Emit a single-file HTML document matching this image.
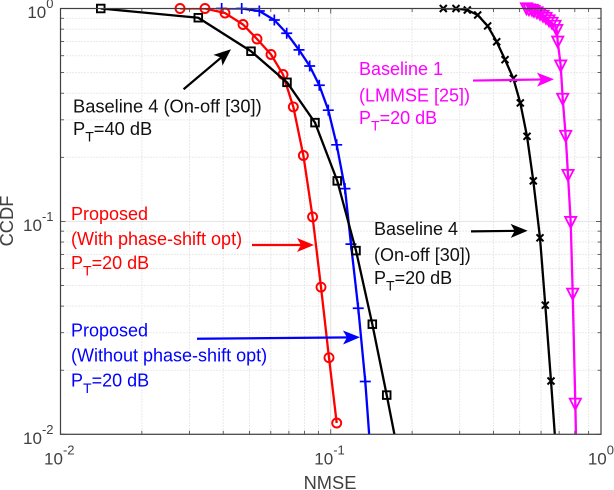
<!DOCTYPE html>
<html lang="en">
<head>
<meta charset="utf-8">
<title>CCDF vs NMSE</title>
<style>
html,body{margin:0;padding:0;background:#fff;width:614px;height:490px;overflow:hidden}
svg{display:block;font-family:"Liberation Sans",Arial,sans-serif}
.note{font-size:18px}
.note-wide{font-size:18.3px}
.sub{font-size:14px}
</style>
</head>
<body>
<svg id="chart" xmlns="http://www.w3.org/2000/svg" width="614" height="490" viewBox="0 0 614 490">
  <defs><clipPath id="plot-clip"><rect x="60.5" y="8.5" width="540.5" height="426"/></clipPath></defs>
  <g id="grid"></g>
  <g id="series"></g>
  <g id="axes"></g>

  <text x="330" y="489" text-anchor="middle" font-size="18.3" fill="#404040">NMSE</text>
  <text transform="translate(13 221) rotate(-90)" text-anchor="middle" font-size="18.3" fill="#404040">CCDF</text>

  <g fill="#111">
    <text class="note-wide" x="73" y="112.5">Baseline 4 (On-off [30])</text>
    <text class="note-wide" x="73" y="135">P<tspan class="sub" dy="6.5">T</tspan><tspan dy="-6.5">=40 dB</tspan></text>
    <g transform="translate(231 49.3) rotate(139.9)">
      <line x1="8" y1="0" x2="62" y2="0" stroke="#000" stroke-width="2.2"/>
      <polygon points="0,0 17,-7 13,0 17,7" fill="#000"/>
    </g>
  </g>

  <g fill="#ff0000">
    <text class="note" x="71" y="220">Proposed</text>
    <text class="note" x="71" y="245">(With phase-shift opt)</text>
    <text class="note" x="71" y="269">P<tspan class="sub" dy="6.5">T</tspan><tspan dy="-6.5">=20 dB</tspan></text>
    <g transform="translate(314 245) rotate(180)">
      <line x1="8" y1="0" x2="62" y2="0" stroke="#ff0000" stroke-width="2.2"/>
      <polygon points="0,0 17,-7 13,0 17,7"/>
    </g>
  </g>

  <g fill="#0000ff">
    <text class="note" x="71" y="336.5">Proposed</text>
    <text class="note" x="71" y="361.5">(Without phase-shift opt)</text>
    <text class="note" x="71" y="386.5">P<tspan class="sub" dy="6.5">T</tspan><tspan dy="-6.5">=20 dB</tspan></text>
    <g transform="translate(360 337.3) rotate(179.5)">
      <line x1="8" y1="0" x2="163" y2="0" stroke="#0000ff" stroke-width="2.2"/>
      <polygon points="0,0 17,-7 13,0 17,7"/>
    </g>
  </g>

  <g fill="#ff00ff">
    <text class="note" x="359" y="75">Baseline 1</text>
    <text class="note" x="359" y="101.5">(LMMSE [25])</text>
    <text class="note" x="359" y="124">P<tspan class="sub" dy="6.5">T</tspan><tspan dy="-6.5">=20 dB</tspan></text>
    <g transform="translate(554 79.3) rotate(179.1)">
      <line x1="8" y1="0" x2="81" y2="0" stroke="#ff00ff" stroke-width="2.2"/>
      <polygon points="0,0 17,-7 13,0 17,7"/>
    </g>
  </g>

  <g fill="#111">
    <text class="note" x="374" y="235">Baseline 4</text>
    <text class="note" x="374" y="261">(On-off [30])</text>
    <text class="note" x="374" y="284">P<tspan class="sub" dy="6.5">T</tspan><tspan dy="-6.5">=20 dB</tspan></text>
    <g transform="translate(527.7 230.7) rotate(179.3)">
      <line x1="8" y1="0" x2="56.7" y2="0" stroke="#000" stroke-width="2.2"/>
      <polygon points="0,0 17,-7 13,0 17,7" fill="#000"/>
    </g>
  </g>
</svg>
<script>
/* Chart data: NMSE (x) and CCDF (y) */
const xTickExponents = [-2, -1, 0];
const yTickExponents = [0, -1, -2];
const minorMultipliers = [2, 3, 4, 5, 6, 7, 8, 9];

const baseline1Nmse = [0.5299,0.5414,0.5554,0.5650,0.5797,0.5947,0.6101,0.6259,0.6421,0.6587,0.6758,0.6857,0.6916,0.7095,0.7217,0.7403,0.7549,0.7725,0.7858,0.8035,0.8173];
const baseline1Ccdf = [1,0.989,0.984,0.973,0.958,0.942,0.922,0.902,0.878,0.855,0.828,0.792,0.698,0.539,0.376,0.252,0.165,0.0992,0.0457,0.0139,0.00493];

const proposedNoOptNmse = [0.03948,0.04683,0.05441,0.06183,0.06871,0.07630,0.08358,0.09070,0.09793,0.1052,0.1129,0.1188,0.1264,0.1342,0.1427];
const proposedNoOptCcdf = [1,1,0.973,0.883,0.765,0.639,0.537,0.436,0.333,0.229,0.1426,0.0782,0.0391,0.0177,0.00612];

const proposedOptNmse = [0.02769,0.03425,0.04061,0.04736,0.05334,0.06011,0.06657,0.07270,0.07919,0.08565,0.09203,0.09851,0.1052];
const proposedOptCcdf = [1,1,0.952,0.841,0.719,0.608,0.490,0.345,0.204,0.105,0.0491,0.0229,0.0113];

const baseline4Db20Nmse = [0.2609,0.2907,0.3201,0.3497,0.3807,0.4112,0.4414,0.4737,0.5028,0.5324,0.5617,0.5947,0.6221,0.6531,0.6935];
const baseline4Db20Ccdf = [1,1,0.984,0.932,0.828,0.698,0.575,0.470,0.360,0.251,0.155,0.0837,0.0404,0.0178,0.00612];

const baseline4Db40Nmse = [0.01409,0.03235,0.05069,0.06888,0.08744,0.1057,0.1240,0.1425,0.1611,0.1825];
const baseline4Db40Ccdf = [1,0.905,0.630,0.450,0.291,0.155,0.0729,0.0329,0.01528,0.00681];

const NS = 'http://www.w3.org/2000/svg';
const plotLeft = 60.5, plotRight = 601, plotTop = 8.5, plotBottom = 434.3;

function xScale(v) { return plotLeft + (Math.log10(v) + 2) / 2 * (plotRight - plotLeft); }
function yScale(v) { return plotTop + (0 - Math.log10(v)) / 2 * (plotBottom - plotTop); }

function make(tag, parent, attrs) {
  const el = document.createElementNS(NS, tag);
  for (const k in attrs) el.setAttribute(k, attrs[k]);
  parent.appendChild(el);
  return el;
}

const gridLayer = document.getElementById('grid');
const seriesLayer = document.getElementById('series');
const axesLayer = document.getElementById('axes');
const axisColor = '#404040';

function drawVertical(value, major) {
  const x = xScale(value);
  const g = make('line', gridLayer, {x1: x, x2: x, y1: plotTop, y2: plotBottom,
    stroke: major ? '#e2e2e2' : '#d4d4d4', 'stroke-width': 1, 'stroke-dasharray': major ? 'none' : '1 2'});
  
  
  const len = major ? 5 : 3.5;
  [[plotBottom, plotBottom - len], [plotTop, plotTop + len]].forEach(function (p) {
    const t = make('line', axesLayer, {x1: x, x2: x, y1: p[0], y2: p[1], stroke: axisColor, 'stroke-width': 0.8});
    
    
  });
}

function drawHorizontal(value, major) {
  const y = yScale(value);
  const g = make('line', gridLayer, {x1: plotLeft, x2: plotRight, y1: y, y2: y,
    stroke: major ? '#e2e2e2' : '#d4d4d4', 'stroke-width': 1, 'stroke-dasharray': major ? 'none' : '1 2'});
  
  
  const len = major ? 5 : 3.5;
  [[plotLeft, plotLeft + len], [plotRight, plotRight - len]].forEach(function (p) {
    const t = make('line', axesLayer, {x1: p[0], x2: p[1], y1: y, y2: y, stroke: axisColor, 'stroke-width': 0.8});
    
    
  });
}

function tickLabel(parent, anchorX, baseline, exponent) {
  const t = make('text', parent, {x: anchorX, y: baseline, 'text-anchor': 'end', 'font-size': 17, fill: axisColor});
  
  
  t.appendChild(document.createTextNode('10'));
  const s = make('tspan', t, {dy: -10, 'font-size': 13});
  s.textContent = String(exponent);
}

xTickExponents.forEach(function (e) {
  drawVertical(Math.pow(10, e), true);
  if (e < 0) minorMultipliers.forEach(function (m) { drawVertical(m * Math.pow(10, e), false); });
  const x = xScale(Math.pow(10, e));
  tickLabel(axesLayer, x + (e === 0 ? 13 : 14), plotBottom + 30, e);
});

yTickExponents.forEach(function (e) {
  drawHorizontal(Math.pow(10, e), true);
  if (e < 0) minorMultipliers.forEach(function (m) { drawHorizontal(m * Math.pow(10, e), false); });
  tickLabel(axesLayer, 53.5, yScale(Math.pow(10, e)) + 9.5, e);
});

const frame = make('rect', axesLayer, {x: plotLeft, y: plotTop, width: plotRight - plotLeft, height: plotBottom - plotTop,
  fill: 'none', stroke: axisColor, 'stroke-width': 1.2});



function drawMarker(group, kind, x, y, color) {
  let m;
  const common = {fill: 'none', stroke: color};
  if (kind === 'circle') {
    m = make('circle', group, Object.assign({cx: x, cy: y, r: 4.5, 'stroke-width': 1.9}, common));
  } else if (kind === 'square') {
    m = make('rect', group, Object.assign({x: x - 3.8, y: y - 3.8, width: 7.6, height: 7.6, 'stroke-width': 1.9}, common));
  } else if (kind === 'plus') {
    m = make('path', group, Object.assign({d: 'M' + (x - 5.5) + ' ' + y + 'H' + (x + 5.5) + 'M' + x + ' ' + (y - 5.5) + 'V' + (y + 5.5), 'stroke-width': 1.7}, common));
  } else if (kind === 'cross') {
    m = make('path', group, Object.assign({d: 'M' + (x - 3.5) + ' ' + (y - 3.5) + 'L' + (x + 3.5) + ' ' + (y + 3.5) + 'M' + (x - 3.5) + ' ' + (y + 3.5) + 'L' + (x + 3.5) + ' ' + (y - 3.5), 'stroke-width': 2}, common));
  } else {
    m = make('polygon', group, Object.assign({points: (x - 5.6) + ',' + (y - 5.2) + ' ' + (x + 5.6) + ',' + (y - 5.2) + ' ' + x + ',' + (y + 5.8), 'stroke-width': 1.8}, common));
  }
  
  
}

function drawSeries(name, xs, ys, color, kind) {
  const group = make('g', seriesLayer, {});
  
  
  const pts = xs.map(function (v, i) { return xScale(v).toFixed(2) + ',' + yScale(ys[i]).toFixed(2); }).join(' ');
  const line = make('polyline', group, {points: pts, fill: 'none', stroke: color, 'stroke-width': 2.3, 'stroke-linejoin': 'round', 'clip-path': 'url(#plot-clip)'});
  
  
  xs.forEach(function (v, i) {
    if (ys[i] >= 0.01) drawMarker(group, kind, xScale(v), yScale(ys[i]), color);
  });
}

drawSeries('baseline-1-lmmse-20db', baseline1Nmse, baseline1Ccdf, '#ff00ff', 'triangle');
drawSeries('proposed-without-opt-20db', proposedNoOptNmse, proposedNoOptCcdf, '#0000ff', 'plus');
drawSeries('proposed-with-opt-20db', proposedOptNmse, proposedOptCcdf, '#ff0000', 'circle');
drawSeries('baseline-4-onoff-20db', baseline4Db20Nmse, baseline4Db20Ccdf, '#000000', 'cross');
drawSeries('baseline-4-onoff-40db', baseline4Db40Nmse, baseline4Db40Ccdf, '#000000', 'square');
</script>
</body>
</html>
